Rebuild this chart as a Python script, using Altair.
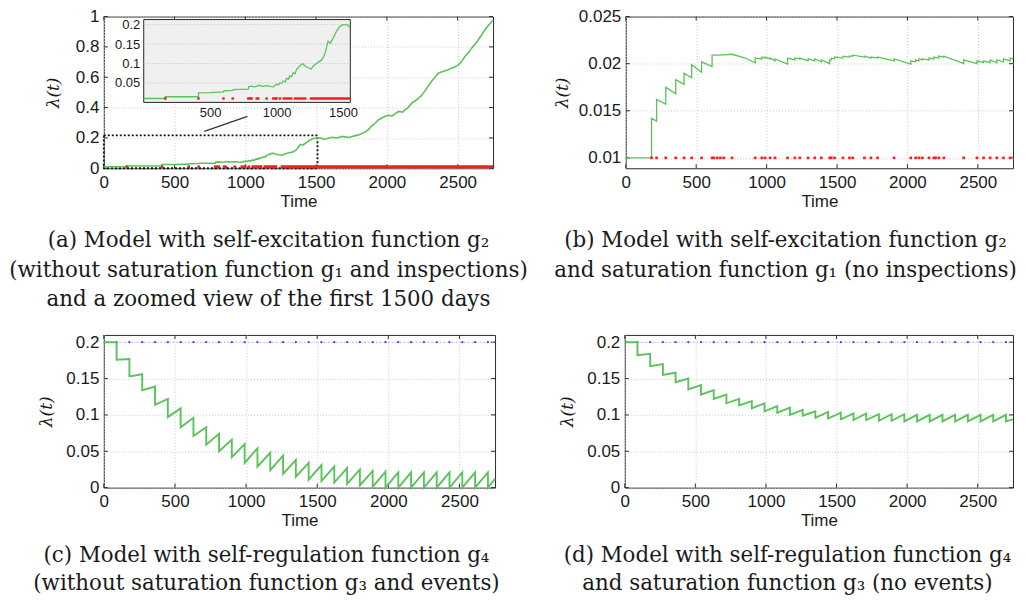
import altair as alt
import pandas as pd

# ---------------- shared ----------------
time_domain = [0, 2750]
time_ticks = [0, 500, 1000, 1500, 2000, 2500]

GREEN = "#5cc25c"
RED = "#ff1a1a"
BLUE = "#3344ff"
BLUE_LINE = "#9aa4ff"
INK = "#1a1a1a"
FRAME = "#2b2b2b"
TICK_LEN = 4

# ---------------- panel (a) ----------------
a_t = [0, 163, 163, 412, 412, 500, 600, 605, 670, 675, 787, 790, 812, 830, 850, 862, 900, 925,
       950, 975, 1000, 1012, 1025, 1040, 1050, 1065, 1075, 1090, 1100, 1112, 1125, 1140, 1150,
       1162, 1187, 1200, 1212, 1237, 1262, 1275, 1300, 1325, 1337, 1362, 1375, 1387, 1405, 1425,
       1450, 1475, 1500, 1537, 1550, 1575, 1613, 1650, 1683, 1730, 1765, 1800, 1848, 1870, 1894,
       1920, 1941, 1988, 2010, 2035, 2060, 2082, 2110, 2129, 2150, 2176, 2200, 2222, 2245, 2270,
       2290, 2316, 2340, 2363, 2385, 2410, 2435, 2457, 2480, 2504, 2525, 2551, 2575, 2597, 2620,
       2645, 2670, 2692, 2720, 2750]
a_v = [0.010, 0.010, 0.015, 0.0145, 0.0246, 0.025, 0.027, 0.030, 0.031, 0.033, 0.034, 0.040, 0.042,
       0.040, 0.041, 0.044, 0.041, 0.043, 0.041, 0.040, 0.047, 0.045, 0.050, 0.049, 0.055, 0.053,
       0.062, 0.060, 0.068, 0.066, 0.076, 0.074, 0.085, 0.089, 0.098, 0.099, 0.094, 0.089, 0.086,
       0.093, 0.100, 0.106, 0.108, 0.123, 0.140, 0.157, 0.152, 0.165, 0.182, 0.195, 0.200, 0.199,
       0.192, 0.195, 0.204, 0.200, 0.210, 0.203, 0.212, 0.220, 0.240, 0.255, 0.280, 0.300, 0.320,
       0.343, 0.350, 0.343, 0.360, 0.375, 0.370, 0.386, 0.400, 0.430, 0.445, 0.460, 0.480, 0.510,
       0.540, 0.573, 0.600, 0.627, 0.635, 0.643, 0.650, 0.660, 0.668, 0.680, 0.700, 0.737, 0.760,
       0.790, 0.815, 0.846, 0.880, 0.912, 0.945, 0.978]
a_event_points = [163, 412, 600, 670, 787, 800, 812, 850, 862, 925, 975, 990, 1000, 1025]
a_dense_start = [1045, 1130, 1250]
a_dense_end = [1120, 1225, 2750]
event_level = [0.01]
a_y_domain = [0, 1]
a_y_ticks = [0, 0.2, 0.4, 0.6, 0.8, 1]
a_box_t = [0, 1510]
a_box_v = [0, 0.217]
a_conn_t = [710, 1015]
a_conn_v = [0.243, 0.342]
inset_x_domain = [0, 1555]
inset_y_domain = [0, 0.213]
inset_x_ticks = [500, 1000, 1500]
inset_y_ticks = [0.05, 0.1, 0.15, 0.2]

# ---------------- panel (b) ----------------
b_t = [0, 183, 183, 219, 219, 284, 284, 355, 355, 414, 414, 468, 468, 538, 538, 613, 613, 660,
       754, 848, 919, 919, 966, 966, 989, 989, 1025, 1025, 1060, 1060, 1149, 1149, 1201, 1201,
       1236, 1236, 1295, 1295, 1342, 1342, 1389, 1389, 1448, 1448, 1459, 1459, 1483, 1483, 1542,
       1542, 1589, 1589, 1612, 1612, 1695, 1695, 1741, 1741, 1788, 1788, 1906, 1906, 2024, 2024,
       2059, 2059, 2082, 2082, 2106, 2106, 2153, 2153, 2188, 2188, 2223, 2223, 2259, 2259, 2400,
       2400, 2494, 2494, 2541, 2541, 2588, 2588, 2635, 2635, 2682, 2682, 2729, 2729, 2750]
b_v = [0.0100, 0.0100, 0.0142, 0.0139, 0.0162, 0.0157, 0.0175, 0.0168, 0.0183, 0.0178, 0.0190,
       0.0185, 0.0199, 0.0191, 0.0202, 0.0197, 0.0209, 0.0209, 0.0210, 0.0206, 0.0201, 0.0206,
       0.0205, 0.0207, 0.0206, 0.0207, 0.0205, 0.0206, 0.0203, 0.0205, 0.01995, 0.0206, 0.0204,
       0.0206, 0.0205, 0.0206, 0.0203, 0.0205, 0.0203, 0.0205, 0.0202, 0.0204, 0.0200, 0.0204,
       0.0204, 0.0206, 0.0205, 0.0207, 0.0206, 0.0208, 0.0207, 0.0208, 0.0208, 0.0209, 0.0207,
       0.0208, 0.0206, 0.0207, 0.0206, 0.0207, 0.0203, 0.0205, 0.01995, 0.0203, 0.0202, 0.0204,
       0.0203, 0.0205, 0.0204, 0.0205, 0.0204, 0.0206, 0.0205, 0.0207, 0.0206, 0.0208, 0.0207,
       0.0208, 0.0200, 0.0204, 0.0200, 0.0203, 0.0201, 0.0203, 0.0201, 0.0204, 0.0201, 0.0204,
       0.0202, 0.0205, 0.0203, 0.0206, 0.0205]
b_events = [183, 219, 284, 355, 414, 468, 538, 613, 625, 649, 672, 696, 754, 919, 966, 989, 1025,
            1060, 1149, 1201, 1236, 1295, 1342, 1389, 1448, 1459, 1483, 1542, 1589, 1612, 1695,
            1741, 1788, 1906, 2024, 2059, 2082, 2106, 2153, 2188, 2200, 2223, 2259, 2400, 2494,
            2541, 2588, 2635, 2682, 2729]
b_y_domain = [0.0089, 0.025]
b_y_ticks = [0.01, 0.015, 0.02, 0.025]

# ---------------- panels (c) and (d) ----------------
cd_t = [0, 90, 90, 180, 180, 270, 270, 360, 360, 450, 450, 540, 540, 630, 630, 720, 720, 810, 810,
        900, 900, 990, 990, 1080, 1080, 1170, 1170, 1260, 1260, 1350, 1350, 1440, 1440, 1530,
        1530, 1620, 1620, 1710, 1710, 1800, 1800, 1890, 1890, 1980, 1980, 2070, 2070, 2160, 2160,
        2250, 2250, 2340, 2340, 2430, 2430, 2520, 2520, 2610, 2610, 2700, 2700, 2750]
c_v = [0.2, 0.2, 0.176, 0.177, 0.153, 0.156, 0.134, 0.139, 0.114, 0.122, 0.097, 0.109, 0.083,
       0.096, 0.071, 0.083, 0.059, 0.074, 0.050, 0.066, 0.042, 0.060, 0.034, 0.054, 0.029, 0.048,
       0.024, 0.044, 0.019, 0.038, 0.015, 0.034, 0.011, 0.031, 0.009, 0.029, 0.007, 0.027, 0.005,
       0.025, 0.003, 0.023, 0.001, 0.022, 0.0, 0.021, 0.0, 0.021, 0.0, 0.021, 0.0, 0.021, 0.0,
       0.021, 0.0, 0.021, 0.0, 0.021, 0.0, 0.021, 0.0, 0.012]
d_v = [0.2, 0.2, 0.182, 0.184, 0.167, 0.170, 0.155, 0.158, 0.145, 0.150, 0.135, 0.141, 0.128,
       0.134, 0.122, 0.128, 0.116, 0.122, 0.113, 0.119, 0.109, 0.116, 0.105, 0.112, 0.103, 0.110,
       0.100, 0.107, 0.099, 0.105, 0.096, 0.104, 0.095, 0.103, 0.094, 0.102, 0.093, 0.102, 0.093,
       0.101, 0.092, 0.101, 0.092, 0.101, 0.091, 0.100, 0.091, 0.100, 0.091, 0.100, 0.091, 0.100,
       0.091, 0.100, 0.091, 0.100, 0.091, 0.100, 0.091, 0.100, 0.091, 0.094]
inspections = [90, 180, 270, 360, 450, 540, 630, 720, 810, 900, 990, 1080, 1170, 1260, 1350,
               1440, 1530, 1620, 1710, 1800, 1890, 1980, 2070, 2160, 2250, 2340, 2430, 2520,
               2610, 2700]
insp_level = [0.2]
insp_line_t = [90, 2750]
cd_y_domain = [0, 0.21]
cd_y_ticks = [0, 0.05, 0.1, 0.15, 0.2]

# ---------------- captions ----------------
cap_a = ["(a) Model with self-excitation function g\u2082",
         "(without saturation function g\u2081 and inspections)",
         "and a zoomed view of the first 1500 days"]
cap_b = ["(b) Model with self-excitation function g\u2082",
         "and saturation function g\u2081 (no inspections)"]
cap_c = ["(c) Model with self-regulation function g\u2084",
         "(without saturation function g\u2083 and events)"]
cap_d = ["(d) Model with self-regulation function g\u2084",
         "and saturation function g\u2083 (no events)"]

assert len(a_t) == len(a_v) and len(b_t) == len(b_v)
assert len(cd_t) == len(c_v) == len(d_v)


# ---------------- helpers ----------------
def x_axis():
    return alt.Axis(values=time_ticks, format="d", title="Time", labelFlush=False,
                    labelOverlap=False, labelPadding=6, titlePadding=3, grid=True,
                    ticks=False, domain=False)


def y_axis(values, pad):
    return alt.Axis(values=values, format="~g", title="\u03bb(t)", labelPadding=5,
                    titlePadding=pad, grid=True, ticks=False, domain=False,
                    labelFlush=False, labelOverlap=False)


def series_df(t, v):
    return pd.DataFrame({"t": t, "v": v, "i": list(range(len(t)))})


def captions(lines, cx, y0, step):
    out = []
    for k, line in enumerate(lines):
        out.append(
            alt.Chart(pd.DataFrame({"txt": [line]}))
            .mark_text(font="DejaVu Serif", fontSize=21.4, color=INK, align="center",
                       baseline="middle")
            .encode(x=alt.value(cx), y=alt.value(y0 + k * step), text="txt:N")
        )
    return out


def frame_ticks(sx, sy, ax, ay, xvals, yvals, w, h):
    """MATLAB-style inward tick marks on all four sides of the axes box."""
    xdf = pd.DataFrame({"t": xvals})
    ydf = pd.DataFrame({"v": yvals})
    xt = alt.X("t:Q", scale=sx, axis=ax)
    yt = alt.Y("v:Q", scale=sy, axis=ay)
    return [
        alt.Chart(xdf).mark_rule(color=FRAME, strokeWidth=1)
        .encode(x=xt, y=alt.value(0), y2=alt.value(TICK_LEN)),
        alt.Chart(xdf).mark_rule(color=FRAME, strokeWidth=1)
        .encode(x=xt, y=alt.value(h - TICK_LEN), y2=alt.value(h)),
        alt.Chart(ydf).mark_rule(color=FRAME, strokeWidth=1)
        .encode(y=yt, x=alt.value(0), x2=alt.value(TICK_LEN)),
        alt.Chart(ydf).mark_rule(color=FRAME, strokeWidth=1)
        .encode(y=yt, x=alt.value(w - TICK_LEN), x2=alt.value(w)),
    ]


def green_line(t, v, sx, sy, ax, ay, width):
    return (
        alt.Chart(series_df(t, v))
        .mark_line(color=GREEN, strokeWidth=width)
        .encode(x=alt.X("t:Q", scale=sx, axis=ax), y=alt.Y("v:Q", scale=sy, axis=ay),
                order="i:Q")
    )


# ---------------- panel (a) ----------------
WA, HA = 390, 152
sx_a = alt.Scale(domain=time_domain, nice=False, zero=False)
sy_a = alt.Scale(domain=a_y_domain, nice=False, zero=False)
ax_a = x_axis()
ay_a = y_axis(a_y_ticks, 13)

a_main_line = green_line(a_t, a_v, sx_a, sy_a, ax_a, ay_a, 1.6)
a_ev = (
    alt.Chart(pd.DataFrame({"t": a_event_points, "v": event_level * len(a_event_points)}))
    .mark_square(color=RED, size=7, opacity=1)
    .encode(x=alt.X("t:Q", scale=sx_a, axis=ax_a), y=alt.Y("v:Q", scale=sy_a, axis=ay_a))
)
a_dense_df = pd.DataFrame({"s": a_dense_start, "e": a_dense_end,
                           "v": event_level * len(a_dense_start)})
a_dense = (
    alt.Chart(a_dense_df)
    .mark_rule(color=RED, strokeWidth=3)
    .encode(x=alt.X("s:Q", scale=sx_a, axis=ax_a), x2="e:Q",
            y=alt.Y("v:Q", scale=sy_a, axis=ay_a))
)
a_box = (
    alt.Chart(pd.DataFrame({"x0": [a_box_t[0]], "x1": [a_box_t[1]],
                            "y0": [a_box_v[0]], "y1": [a_box_v[1]]}))
    .mark_rect(fillOpacity=0, stroke="#111111", strokeWidth=1.8, strokeDash=[2, 2])
    .encode(x=alt.X("x0:Q", scale=sx_a, axis=ax_a), x2="x1:Q",
            y=alt.Y("y0:Q", scale=sy_a, axis=ay_a), y2="y1:Q")
)
a_conn = (
    alt.Chart(series_df(a_conn_t, a_conn_v))
    .mark_line(color="#333333", strokeWidth=1.2)
    .encode(x=alt.X("t:Q", scale=sx_a, axis=ax_a), y=alt.Y("v:Q", scale=sy_a, axis=ay_a),
            order="i:Q")
)
main_a = alt.layer(*frame_ticks(sx_a, sy_a, ax_a, ay_a, time_ticks, a_y_ticks, WA, HA),
                   a_box, a_conn, a_main_line, a_ev, a_dense,
                   *captions(cap_a, 165, 225, 29.5))

# inset
sx_in = alt.Scale(domain=inset_x_domain, range=[40, 247], nice=False, zero=False)
sy_in = alt.Scale(domain=inset_y_domain, range=[86, 3], nice=False, zero=False)
ax_in = alt.Axis(orient="bottom", offset=-66, values=inset_x_ticks, format="d", title=None,
                 labelFontSize=13, labelPadding=4, labelFlush=False, grid=False, ticks=False,
                 domain=False)
ay_in = alt.Axis(orient="left", offset=-40, values=inset_y_ticks, format="~g", title=None,
                 labelFontSize=13, labelPadding=4, labelFlush=False, grid=False, ticks=False,
                 domain=False)
in_bg = (
    alt.Chart(pd.DataFrame({"x0": [inset_x_domain[0]], "x1": [inset_x_domain[1]],
                            "y0": [inset_y_domain[0]], "y1": [inset_y_domain[1]]}))
    .mark_rect(fill="#f0f0f0", stroke="#262626", strokeWidth=1)
    .encode(x=alt.X("x0:Q", scale=sx_in, axis=ax_in), x2="x1:Q",
            y=alt.Y("y0:Q", scale=sy_in, axis=ay_in), y2="y1:Q")
)
in_grid = (
    alt.Chart(pd.DataFrame({"v": inset_y_ticks,
                            "s": [inset_x_domain[0]] * len(inset_y_ticks),
                            "e": [inset_x_domain[1]] * len(inset_y_ticks)}))
    .mark_rule(color="#bdbdbd", strokeWidth=1, strokeDash=[1, 2])
    .encode(x=alt.X("s:Q", scale=sx_in, axis=ax_in), x2="e:Q",
            y=alt.Y("v:Q", scale=sy_in, axis=ay_in))
)
in_line = (
    alt.Chart(series_df(a_t, a_v))
    .transform_filter(alt.datum.t <= inset_x_domain[1])
    .mark_line(color=GREEN, strokeWidth=1.3)
    .encode(x=alt.X("t:Q", scale=sx_in, axis=ax_in), y=alt.Y("v:Q", scale=sy_in, axis=ay_in),
            order="i:Q")
)
in_ev = (
    alt.Chart(pd.DataFrame({"t": a_event_points, "v": event_level * len(a_event_points)}))
    .mark_square(color=RED, size=6, opacity=1)
    .encode(x=alt.X("t:Q", scale=sx_in, axis=ax_in), y=alt.Y("v:Q", scale=sy_in, axis=ay_in))
)
in_dense = (
    alt.Chart(a_dense_df)
    .transform_filter(alt.datum.s < inset_x_domain[1])
    .transform_calculate(e2="min(datum.e, %s)" % inset_x_domain[1])
    .mark_rule(color=RED, strokeWidth=2.4)
    .encode(x=alt.X("s:Q", scale=sx_in, axis=ax_in), x2="e2:Q",
            y=alt.Y("v:Q", scale=sy_in, axis=ay_in))
)
inset_a = alt.layer(in_bg, in_grid, in_line, in_ev, in_dense)

panel_a = (
    alt.layer(main_a, inset_a)
    .resolve_scale(x="independent", y="independent")
    .resolve_axis(x="independent", y="independent")
    .properties(width=WA, height=HA)
)

# ---------------- panel (b) ----------------
WB, HB = 388, 152
sx_b = alt.Scale(domain=time_domain, nice=False, zero=False)
sy_b = alt.Scale(domain=b_y_domain, nice=False, zero=False)
ax_b = x_axis()
ay_b = y_axis(b_y_ticks, 6.5)
b_line = green_line(b_t, b_v, sx_b, sy_b, ax_b, ay_b, 1.3)
b_ev = (
    alt.Chart(pd.DataFrame({"t": b_events, "v": event_level * len(b_events)}))
    .mark_square(color=RED, size=7, opacity=1)
    .encode(x=alt.X("t:Q", scale=sx_b, axis=ax_b), y=alt.Y("v:Q", scale=sy_b, axis=ay_b))
)
panel_b = alt.layer(*frame_ticks(sx_b, sy_b, ax_b, ay_b, time_ticks, b_y_ticks, WB, HB),
                    b_line, b_ev, *captions(cap_b, 160, 225, 29.5)).properties(
    width=WB, height=HB)


# ---------------- panels (c), (d) ----------------
def reg_panel(vals, cap, cx, width):
    h = 153
    sx = alt.Scale(domain=time_domain, nice=False, zero=False)
    sy = alt.Scale(domain=cd_y_domain, nice=False, zero=False)
    ax = x_axis()
    ay = y_axis(cd_y_ticks, 10)
    insp_line = (
        alt.Chart(pd.DataFrame({"s": [insp_line_t[0]], "e": [insp_line_t[1]], "v": insp_level}))
        .mark_rule(color=BLUE_LINE, strokeWidth=1, strokeDash=[1, 3])
        .encode(x=alt.X("s:Q", scale=sx, axis=ax), x2="e:Q", y=alt.Y("v:Q", scale=sy, axis=ay))
    )
    insp_dots = (
        alt.Chart(pd.DataFrame({"t": inspections, "v": insp_level * len(inspections)}))
        .mark_circle(color=BLUE, size=5, opacity=1)
        .encode(x=alt.X("t:Q", scale=sx, axis=ax), y=alt.Y("v:Q", scale=sy, axis=ay))
    )
    line = green_line(cd_t, vals, sx, sy, ax, ay, 1.9)
    return alt.layer(*frame_ticks(sx, sy, ax, ay, time_ticks, cd_y_ticks, width, h),
                     insp_line, insp_dots, line, *captions(cap, cx, 222, 28)).properties(
        width=width, height=h)


panel_c = reg_panel(c_v, cap_c, 163, 392)
panel_d = reg_panel(d_v, cap_d, 163, 389)

row1 = alt.hconcat(panel_a, panel_b, spacing=133, bounds="flush")
row2 = alt.hconcat(panel_c, panel_d, spacing=130, bounds="flush")

chart = (
    alt.vconcat(row1, row2, spacing=319, bounds="flush")
    .properties(padding={"left": 0, "top": -2, "right": 0, "bottom": 0}, background="white")
    .configure_view(stroke=FRAME, strokeWidth=1)
    .configure_axis(labelFont="Liberation Sans", labelFontSize=17, labelColor=INK,
                    titleFont="Liberation Sans", titleFontSize=17, titleFontWeight="normal",
                    titleColor=INK, gridColor="#c8c8c8", gridDash=[1, 2], gridWidth=1)
    .configure_axisY(titleFont="DejaVu Serif", titleFontStyle="italic")
)

chart.save("out.html", embed_options={"renderer": "svg", "actions": False})
